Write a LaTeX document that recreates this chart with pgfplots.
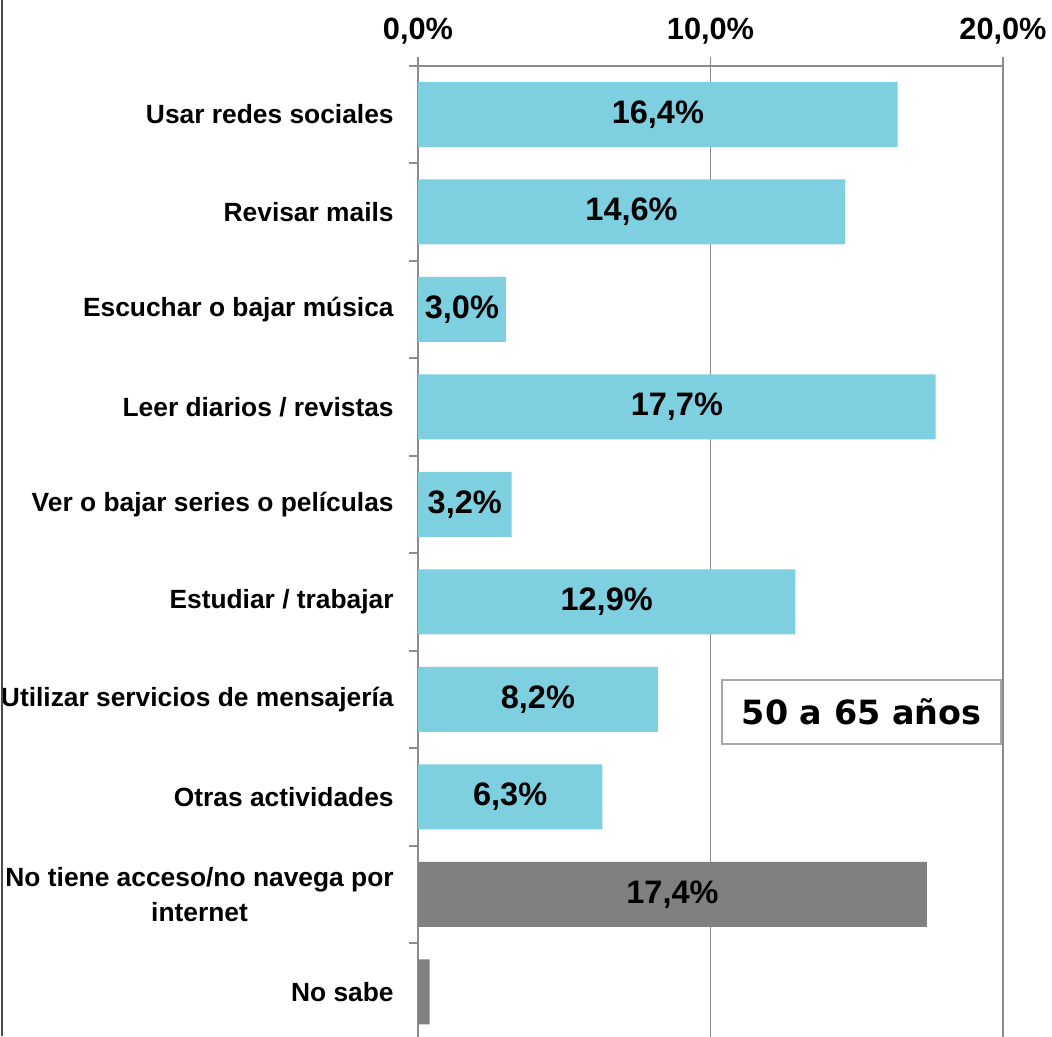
\documentclass[border=0pt]{standalone}
\usepackage{fontspec}
\setmainfont{Liberation Sans}
\newfontfamily\dejavu{DejaVu Sans}
\usepackage{pgfplots}
\pgfplotsset{compat=1.18}
\usepackage{pgfplotstable}
\definecolor{barblue}{HTML}{7ECFE0}
\definecolor{bargray}{HTML}{808080}
\definecolor{gridgray}{HTML}{8C8C8C}
\definecolor{boxgray}{HTML}{A6A6A6}
\pgfplotstableread{
y v
9 16.4
8 14.6
7 3.0
6 17.7
5 3.2
4 12.9
3 8.2
2 6.3
}\bluedata
\pgfplotstableread{
y v
1 17.4
0 0.4
}\graydata
\pgfplotstableread{
y v
9 16.4
8 14.6
7 3.0
6 17.7
5 3.2
4 12.9
3 8.2
2 6.3
1 17.4
}\labeldata
\begin{document}
\begin{tikzpicture}
\begin{axis}[
  at={(8.36cm,-1.314cm)}, anchor=north west,
  scale only axis, width=11.7cm, height=19.5cm,
  xmin=0, xmax=20, ymin=-0.5, ymax=9.5,
  axis x line*=top, axis y line*=left,
  axis line style={gridgray, line width=1pt},
  xtick={0,10,20}, xticklabels={{0,0\%},{10,0\%},{20,0\%}},
  xmajorgrids, grid style={gridgray, line width=1pt},
  tick align=outside, major tick length=0.17cm,
  tick style={gridgray, line width=1pt},
  ytick={0.5,1.5,...,9.5}, yticklabels={},
  extra y ticks={0,1,...,9},
  extra y tick labels={No sabe,{No tiene acceso/no navega por\\internet},Otras actividades,Utilizar servicios de mensajería,Estudiar / trabajar,Ver o bajar series o películas,Leer diarios / revistas,Escuchar o bajar música,Revisar mails,Usar redes sociales},
  extra y tick style={major tick length=0pt},
  yticklabel style={font=\bfseries\fontsize{15}{20}\selectfont, align=center, anchor=east, inner sep=0pt, xshift=-0.48cm},
  xticklabel style={font=\bfseries\fontsize{17.5}{20}\selectfont, anchor=base, inner sep=0pt, yshift=0.36cm},
]
\addplot[xbar, bar shift=0pt, bar width=1.3cm, fill=barblue, draw=none] table[x=v, y=y] \bluedata;
\addplot[xbar, bar shift=0pt, bar width=1.3cm, fill=bargray, draw=none] table[x=v, y=y] \graydata;
\addplot[draw=none, mark=none, point meta=explicit,
  nodes near coords={\pgfmathprintnumber[fixed, fixed zerofill, precision=1, use comma, assume math mode=true]{\pgfplotspointmeta}\%},
  nodes near coords style={anchor=center, inner sep=0pt, font=\bfseries\fontsize{18.5}{20}\selectfont}]
  table[x expr=\thisrow{v}/2, y=y, meta=v] \labeldata;
\end{axis}
\node[draw=boxgray, line width=0.7pt, fill=white, minimum width=5.58cm, minimum height=1.28cm, inner sep=0pt, font=\dejavu\bfseries\fontsize{19}{22}\selectfont] at (17.23cm,-14.24cm) {50 a 65 años};
\draw[black!70, line width=1pt] (0.04cm,0) -- (0.04cm,-20.72cm);
\pgfresetboundingbox
\useasboundingbox (0,0) rectangle (21.04cm,-20.72cm);
\end{tikzpicture}
\end{document}
